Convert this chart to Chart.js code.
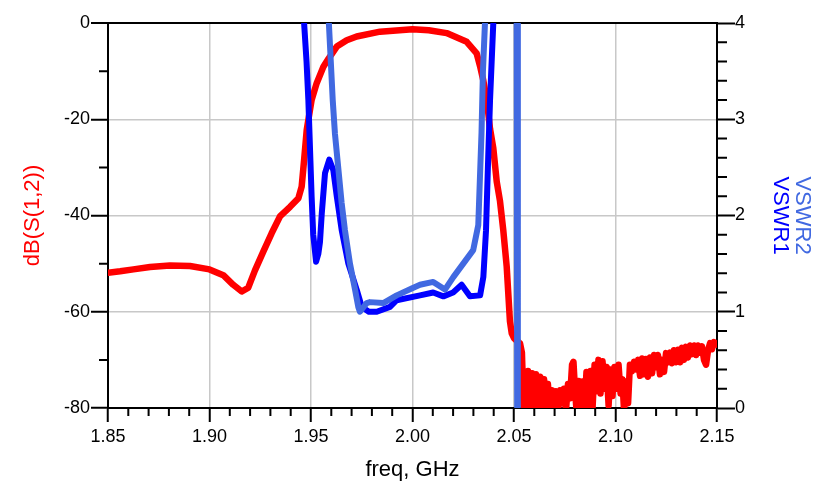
<!DOCTYPE html>
<html>
<head>
<meta charset="utf-8">
<script src="https://cdn.jsdelivr.net/npm/chart.js@4.4.1/dist/chart.umd.min.js"></script>
<style>
  html, body { margin: 0; padding: 0; background: #fff; }
</style>
</head>
<body>
<canvas id="myChart" width="821" height="497"></canvas>
<script>
// tick labels
const freqTicks = [1.85, 1.90, 1.95, 2.00, 2.05, 2.10, 2.15];
const dbTicks = [-80, -60, -40, -20, 0];
const vswrTicks = [0, 1, 2, 3, 4];

// dB(S(1,2))
const s12Freq = [1.850, 1.856, 1.8625, 1.8707, 1.8805, 1.8904, 1.900, 1.9068, 1.9117, 1.9159,
  1.9191, 1.9224, 1.9265, 1.9306, 1.9347, 1.9397, 1.9438, 1.9454, 1.9466, 1.9479,
  1.9503, 1.9528, 1.9561, 1.9585, 1.9627, 1.9676, 1.9725, 1.984, 2.000, 2.008,
  2.0168, 2.0267, 2.0316, 2.0333, 2.0349, 2.0366, 2.0382, 2.0398, 2.0415, 2.0431,
  2.0447, 2.0464, 2.048, 2.0489, 2.050, 2.0530, 2.0539, 2.0547, 2.0554, 2.0562,
  2.0569, 2.0579, 2.0589, 2.0599, 2.0608, 2.0618, 2.0628, 2.0638, 2.0648, 2.0658,
  2.0667, 2.0677, 2.0687, 2.0697, 2.0707, 2.0717, 2.0727, 2.0736, 2.0746, 2.0756,
  2.0766, 2.0776, 2.0786, 2.0793, 2.0800, 2.0808, 2.0818, 2.0828, 2.0837, 2.0847,
  2.0857, 2.0867, 2.0877, 2.0887, 2.0897, 2.0906, 2.0916, 2.0926, 2.0936, 2.0946,
  2.0956, 2.0966, 2.0975, 2.0985, 2.0995, 2.1005, 2.1015, 2.1025, 2.1034, 2.1042,
  2.1052, 2.1062, 2.1071, 2.1081, 2.1091, 2.1101, 2.1111, 2.1121, 2.1131, 2.1140,
  2.1150, 2.1160, 2.1170, 2.1180, 2.1190, 2.1200, 2.1209, 2.1219, 2.1229, 2.1239,
  2.1249, 2.1259, 2.1268, 2.1278, 2.1288, 2.1298, 2.1308, 2.1318, 2.1328, 2.1337,
  2.1347, 2.1357, 2.1367, 2.1377, 2.1387, 2.1397, 2.1406, 2.1416, 2.1426, 2.1436,
  2.1446, 2.1456, 2.1466, 2.1475, 2.1485, 2.1500];
const s12Db = [-51.9, -51.6, -51.2, -50.7, -50.4, -50.5, -51.2, -52.4, -54.4, -55.8,
  -55.0, -51.4, -47.5, -43.7, -40.2, -38.2, -36.4, -34.0, -28.5, -22.2,
  -16.0, -12.5, -9.1, -7.5, -4.9, -3.6, -2.8, -1.8, -1.3, -1.5,
  -2.1, -3.9, -6.3, -9.0, -12.0, -16.0, -22.0, -26.0, -33.0, -37.0,
  -43.0, -50.6, -62.0, -64.5, -65.5, -66.6, -68.5, -79.5, -72.5, -80.5,
  -72.3, -79.5, -72.8, -80.5, -73.0, -79.8, -73.5, -80.5, -74.0, -79.5,
  -75.0, -80.5, -76.3, -80.0, -76.5, -80.5, -76.3, -79.0, -76.0, -80.5,
  -75.0, -78.0, -71.0, -70.4, -76.0, -80.5, -74.4, -80.0, -74.5, -80.5,
  -72.5, -79.5, -72.3, -80.0, -71.0, -76.5, -70.0, -77.0, -70.3, -76.0,
  -71.5, -79.5, -72.0, -77.5, -71.5, -76.0, -71.0, -77.0, -74.0, -80.5,
  -74.5, -79.0, -71.0, -72.4, -70.4, -72.0, -70.0, -73.3, -69.7, -73.0,
  -69.8, -73.5, -69.5, -72.8, -69.0, -71.5, -69.0, -73.0, -70.0, -72.5,
  -68.6, -70.5, -68.5, -70.7, -68.0, -70.5, -67.9, -70.5, -67.5, -70.0,
  -67.3, -69.5, -67.0, -68.8, -67.0, -69.0, -67.0, -68.5, -67.2, -70.0,
  -71.0, -68.0, -66.5, -67.8, -66.3, -66.8];

// VSWR1
const vswr1Freq = [1.9460, 1.9466, 1.9478, 1.9487, 1.9495, 1.9503, 1.9511, 1.9525, 1.9536, 1.9544,
  1.9553, 1.9569, 1.9590, 1.9610, 1.9627, 1.9651, 1.9684, 1.9725, 1.9750, 1.9785,
  1.9824, 1.9889, 1.9922, 2.0037, 2.0102, 2.0152, 2.0200, 2.0242, 2.0283, 2.0333,
  2.0349, 2.0362, 2.0374, 2.0382, 2.0398, 2.0410];
const vswr1 = [4.6, 4.0, 3.6, 3.2, 2.7, 2.2, 1.8, 1.52, 1.6, 1.72,
  2.02, 2.44, 2.58, 2.47, 2.2, 1.85, 1.5, 1.23, 1.05, 1.0,
  1.0, 1.05, 1.12, 1.17, 1.2, 1.16, 1.2, 1.28, 1.16, 1.17,
  1.36, 1.84, 2.68, 3.2, 4.0, 4.6];

// VSWR2
const vswr2Freq = [1.9580, 1.9588, 1.9607, 1.9618, 1.9634, 1.9651, 1.9667, 1.9692, 1.9717, 1.9733,
  1.9741, 1.9774, 1.9790, 1.9856, 1.9922, 2.0004, 2.0037, 2.0102, 2.0160, 2.0201,
  2.0250, 2.0299, 2.0324, 2.0340, 2.0347, 2.0357, 2.0365, 2.0513, 2.0516, 2.0519,
  2.1500];
const vswr2 = [4.6, 4.0, 3.2, 2.85, 2.5, 2.13, 1.85, 1.5, 1.23, 1.05,
  1.0, 1.09, 1.1, 1.09, 1.17, 1.25, 1.28, 1.31, 1.23, 1.36,
  1.5, 1.64, 1.9, 2.86, 3.5, 4.0, 4.6, 4.6, -0.5, 4.6,
  4.6];

const toXY = (xs, ys) => xs.map((x, i) => ({ x: x, y: ys[i] }));

Chart.defaults.font.family = "'Liberation Sans', Arial, sans-serif";
Chart.defaults.color = '#000';

const GRID = '#c8c8c8';

// minor tick marks on all three axes
const minorTicks = {
  id: 'minorTicks',
  afterDraw(chart) {
    const ctx = chart.ctx;
    const a = chart.chartArea;
    const sx = chart.scales.x, sy = chart.scales.y, sy1 = chart.scales.y1;
    ctx.save();
    ctx.strokeStyle = '#000';
    ctx.lineWidth = 2;
    ctx.beginPath();
    for (let i = 1; i < 30; i++) {
      if (i % 5 === 0) continue;
      const px = sx.getPixelForValue(1.85 + i * 0.01);
      ctx.moveTo(px, a.bottom);
      ctx.lineTo(px, a.bottom + 8);
    }
    for (let v = -70; v < 0; v += 20) {
      const py = sy.getPixelForValue(v);
      ctx.moveTo(a.left, py);
      ctx.lineTo(a.left - 9, py);
    }
    for (let i = 1; i < 20; i++) {
      if (i % 5 === 0) continue;
      const py = sy1.getPixelForValue(i * 0.2);
      ctx.moveTo(a.right, py);
      ctx.lineTo(a.right + 10, py);
    }
    ctx.stroke();
    ctx.restore();
  }
};

const ctx = document.getElementById('myChart').getContext('2d');
const myChart = new Chart(ctx, {
  type: 'line',
  data: {
    datasets: [
      {
        label: 'dB(S(1,2))',
        data: toXY(s12Freq, s12Db),
        yAxisID: 'y',
        borderColor: '#ff0000',
        borderWidth: 6.5,
        order: 3
      },
      {
        label: 'VSWR1',
        data: toXY(vswr1Freq, vswr1),
        yAxisID: 'y1',
        borderColor: '#0000ff',
        borderWidth: 6,
        order: 2
      },
      {
        label: 'VSWR2',
        data: toXY(vswr2Freq, vswr2),
        yAxisID: 'y1',
        borderColor: '#4169e1',
        borderWidth: 6,
        order: 1
      }
    ]
  },
  options: {
    responsive: false,
    animation: false,
    devicePixelRatio: 1,
    layout: { padding: { top: 23, left: 0, right: 0, bottom: 0 } },
    elements: {
      point: { radius: 0 },
      line: { tension: 0, borderJoinStyle: 'round', borderCapStyle: 'round' }
    },
    datasets: { line: { clip: 0 } },
    plugins: {
      legend: { display: false },
      tooltip: { enabled: false }
    },
    scales: {
      x: {
        type: 'linear',
        min: 1.85,
        max: 2.15,
        afterBuildTicks: (s) => { s.ticks = freqTicks.map(v => ({ value: v })); },
        afterFit: (s) => { s.height = 89; },
        ticks: {
          font: { size: 18 },
          padding: 4,
          maxRotation: 0,
          callback: (v) => v.toFixed(2)
        },
        grid: {
          color: (c) => (c.index === 0 || c.index === freqTicks.length - 1) ? '#000' : GRID,
          lineWidth: 1.5,
          tickColor: '#000',
          tickLength: 14,
          tickWidth: 2
        },
        border: { color: '#000', width: 2 },
        title: {
          display: true,
          text: 'freq, GHz',
          font: { size: 22 },
          padding: { top: 0, bottom: 14 }
        }
      },
      y: {
        position: 'left',
        min: -80,
        max: 0,
        afterBuildTicks: (s) => { s.ticks = dbTicks.map(v => ({ value: v })); },
        afterFit: (s) => { s.width = 108; },
        ticks: { font: { size: 18 }, padding: 1 },
        grid: {
          color: (c) => (c.tick && (c.tick.value === 0 || c.tick.value === -80)) ? '#000' : GRID,
          lineWidth: (c) => (c.tick && c.tick.value === 0) ? 2 : 1.5,
          tickColor: '#000',
          tickLength: 17,
          tickWidth: 2
        },
        border: { color: '#000', width: 2 },
        title: {
          display: true,
          text: 'dB(S(1,2))',
          color: '#ff0000',
          font: { size: 22 },
          padding: { top: 20, bottom: 0 }
        }
      },
      y1: {
        position: 'right',
        weight: 0,
        min: 0,
        max: 4,
        afterBuildTicks: (s) => { s.ticks = vswrTicks.map(v => ({ value: v })); },
        afterFit: (s) => { s.width = 76; },
        ticks: { font: { size: 18 }, padding: 0 },
        grid: {
          drawOnChartArea: false,
          tickColor: '#000',
          tickLength: 18,
          tickWidth: 2
        },
        border: { color: '#000', width: 2 },
        title: {
          display: true,
          text: 'VSWR1',
          color: '#0000ff',
          font: { size: 22 },
          padding: { top: 0, bottom: 0 }
        }
      },
      y2: {
        position: 'right',
        weight: 1,
        min: 0,
        max: 4,
        afterFit: (s) => { s.width = 28; },
        ticks: { display: false },
        grid: { display: false },
        border: { display: false },
        title: {
          display: true,
          text: 'VSWR2',
          color: '#4169e1',
          font: { size: 22 },
          padding: { top: 6, bottom: 0 }
        }
      }
    }
  },
  plugins: [minorTicks]
});
</script>
</body>
</html>
